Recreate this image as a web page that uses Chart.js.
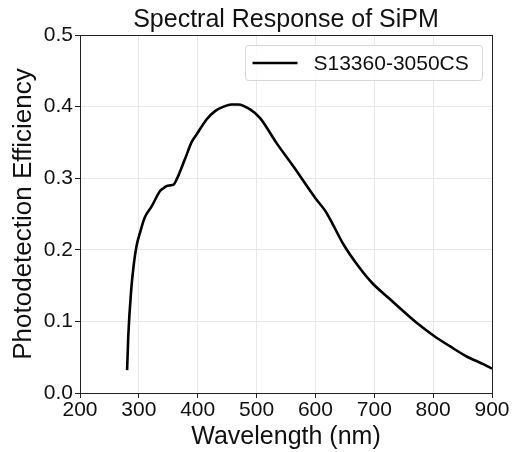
<!DOCTYPE html>
<html>
<head>
<meta charset="utf-8">
<script src="https://cdn.jsdelivr.net/npm/chart.js@4/dist/chart.umd.min.js"></script>
<style>
  html, body { margin: 0; padding: 0; background: #fff; }
  #wrap { width: 513px; height: 452px; }
</style>
</head>
<body>
<div id="wrap"><canvas id="chart" width="513" height="452"></canvas></div>
<script>
// S13360-3050CS 광검출 효율 곡선
const wavelengths = [280, 281, 282, 287, 291, 296, 302, 310, 322, 336, 342, 347, 353, 359, 364, 378, 390, 398, 415, 430, 444, 457, 469, 489, 506, 534, 563, 600, 617, 628, 648, 673, 696, 724, 772, 801, 829, 857, 886, 900];
const efficiency  = [0.032, 0.055, 0.079, 0.144, 0.177, 0.205, 0.224, 0.245, 0.261, 0.282, 0.286, 0.289, 0.290, 0.291, 0.298, 0.326, 0.351, 0.361, 0.382, 0.394, 0.400, 0.403, 0.403, 0.396, 0.384, 0.349, 0.316, 0.272, 0.254, 0.238, 0.207, 0.177, 0.154, 0.133, 0.098, 0.080, 0.065, 0.051, 0.040, 0.034];
const seriesLabel = "S13360-3050CS";
const xTicks = [200, 300, 400, 500, 600, 700, 800, 900];
const yTicks = [0.0, 0.1, 0.2, 0.3, 0.4, 0.5];

const FONT = "'Liberation Sans', Arial, sans-serif";

// ── 축 테두리 (matplotlib 식 상자) ─────────────────────────
const frame = {
  id: "frame",
  afterDraw(chart) {
    const { ctx, chartArea: a } = chart;
    ctx.save();
    ctx.strokeStyle = "#222";
    ctx.lineWidth = 1;
    ctx.strokeRect(Math.round(a.left) + 0.5, Math.round(a.top) + 0.5,
      Math.round(a.right - a.left), Math.round(a.bottom - a.top));
    ctx.restore();
  },
};

// ── 그래프 안쪽 오른쪽 위 범례 ─────────────────────────────
const innerLegend = {
  id: "innerLegend",
  afterDraw(chart) {
    const { ctx, chartArea: a } = chart;
    const ds = chart.data.datasets[0];
    const w = 237, h = 35;
    const x = a.right - 9.5 - w, y = a.top + 10.5;
    ctx.save();
    ctx.beginPath();
    ctx.roundRect(x, y, w, h, 3);
    ctx.fillStyle = "rgba(255,255,255,0.85)";
    ctx.fill();
    ctx.strokeStyle = "#d6d6d6";
    ctx.lineWidth = 1;
    ctx.stroke();
    ctx.beginPath();
    ctx.moveTo(x + 7, y + h / 2);
    ctx.lineTo(x + 52, y + h / 2);
    ctx.strokeStyle = ds.borderColor;
    ctx.lineWidth = ds.borderWidth;
    ctx.stroke();
    ctx.fillStyle = "#111";
    ctx.font = "21px " + FONT;
    ctx.textBaseline = "middle";
    ctx.fillText(ds.label, x + 68, y + h / 2 + 1);
    ctx.restore();
  },
};

new Chart(document.getElementById("chart"), {
  type: "line",
  data: {
    datasets: [{
      label: seriesLabel,
      data: wavelengths.map((w, i) => ({ x: w, y: efficiency[i] })),
      borderColor: "#000",
      borderWidth: 2.6,
      pointRadius: 0,
      cubicInterpolationMode: "monotone",
      fill: false,
    }],
  },
  options: {
    responsive: false,
    animation: false,
    layout: { padding: { left: 0, right: 21, top: 0, bottom: 0 } },
    plugins: {
      legend: { display: false },
      tooltip: { enabled: false },
      title: {
        display: true,
        fullSize: false,
        text: "Spectral Response of SiPM",
        color: "#111",
        font: { family: FONT, size: 25, weight: "normal" },
        padding: { top: 5, bottom: 0 },
      },
    },
    scales: {
      x: {
        type: "linear",
        min: 200,
        max: 900,
        afterBuildTicks: (s) => { s.ticks = xTicks.map((v) => ({ value: v })); },
        afterFit: (s) => { s.height = 59; },
        ticks: { color: "#111", font: { family: FONT, size: 21 }, padding: 0, maxRotation: 0 },
        grid: { color: "#e8e8e8", tickColor: "#222", tickLength: 5 },
        border: { display: true, color: "#222", width: 1 },
        title: {
          display: true,
          text: "Wavelength (nm)",
          color: "#111",
          font: { family: FONT, size: 25 },
          padding: { top: 0, bottom: 0 },
        },
      },
      y: {
        min: 0,
        max: 0.5,
        afterBuildTicks: (s) => { s.ticks = yTicks.map((v) => ({ value: v })); },
        afterFit: (s) => { s.width = 80; },
        ticks: { color: "#111", font: { family: FONT, size: 21 }, padding: 2, callback: (v) => Number(v).toFixed(1) },
        grid: { color: "#e8e8e8", tickColor: "#222", tickLength: 5 },
        border: { display: true, color: "#222", width: 1 },
        title: {
          display: true,
          text: "Photodetection Efficiency",
          color: "#111",
          font: { family: FONT, size: 26 },
          padding: { top: 8, bottom: 0 },
        },
      },
    },
  },
  plugins: [frame, innerLegend],
});
</script>
</body>
</html>
